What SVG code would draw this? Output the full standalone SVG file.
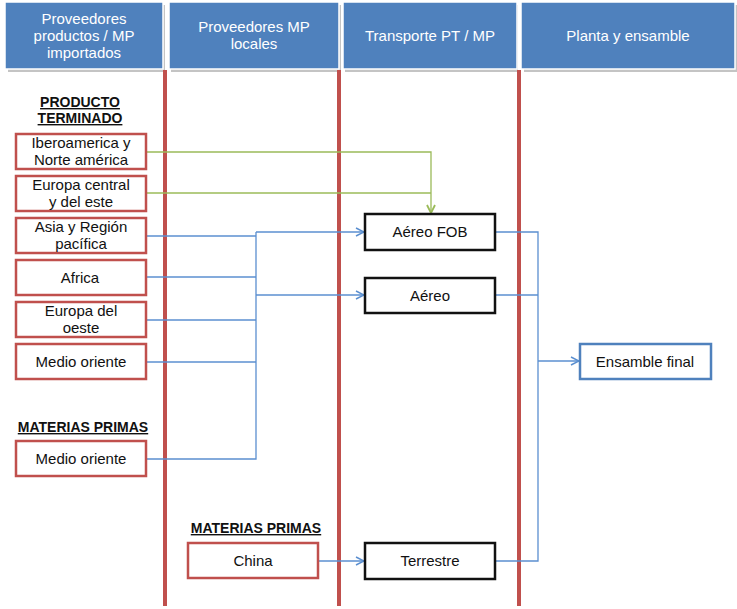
<svg xmlns="http://www.w3.org/2000/svg" width="737" height="609" viewBox="0 0 737 609">
<style>
text{font-family:"Liberation Sans",Arial,sans-serif;font-size:15px;fill:#111;text-anchor:middle}
.hdr rect{fill:#4F81BD;stroke:#fff;stroke-width:1.5}
.hdr text{fill:#fff}
.shadow{fill:#c4c4c4}
.lane{stroke:#C0504D;stroke-width:4}
.src rect{fill:#fff;stroke:#C0504D;stroke-width:2.5}
.tr rect{fill:#fff;stroke:#111;stroke-width:2.5}
.fin rect{fill:#fff;stroke:#4F81BD;stroke-width:2.5}
.lbl{font-weight:bold;font-size:14px;text-decoration:underline;fill:#111}
.b{fill:none;stroke:#5B8FD0;stroke-width:1.3}
.g{fill:none;stroke:#9BBB59;stroke-width:1.3}
</style>
<defs>
<marker id="ab" markerWidth="10" markerHeight="10" refX="9" refY="5" orient="auto" markerUnits="userSpaceOnUse"><path d="M1,1 L9,5 L1,9" fill="none" stroke="#5B8FD0" stroke-width="1.5"/></marker>
<marker id="ag" markerWidth="10" markerHeight="10" refX="9" refY="5" orient="auto" markerUnits="userSpaceOnUse"><path d="M1,1 L9,5 L1,9" fill="none" stroke="#9BBB59" stroke-width="1.8"/></marker>
</defs>
<rect width="737" height="609" fill="#fff"/>
<g id="headers">
<rect class="shadow" x="8" y="5" width="157" height="67"/>
<rect class="shadow" x="171" y="5" width="170" height="67"/>
<rect class="shadow" x="345" y="5" width="173" height="67"/>
<rect class="shadow" x="524" y="5" width="213" height="67"/>
<g id="h1" class="hdr"><rect x="5" y="2" width="158" height="67"/><text x="84" y="24">Proveedores</text><text x="84" y="41">productos / MP</text><text x="84" y="58">importados</text></g>
<g id="h2" class="hdr"><rect x="169" y="2" width="170" height="67"/><text x="254" y="32">Proveedores MP</text><text x="254" y="49">locales</text></g>
<g id="h3" class="hdr"><rect x="343" y="2" width="174" height="67"/><text x="430" y="41">Transporte PT / MP</text></g>
<g id="h4" class="hdr"><rect x="521" y="2" width="214" height="67"/><text x="628" y="41">Planta y ensamble</text></g>
</g>
<g id="lanes">
<line class="lane" x1="165" y1="70" x2="165" y2="606"/>
<line class="lane" x1="339" y1="70" x2="339" y2="606"/>
<line class="lane" x1="519" y1="70" x2="519" y2="606"/>
</g>
<g id="labels">
<text class="lbl" x="80" y="107">PRODUCTO</text>
<text class="lbl" x="80" y="123">TERMINADO</text>
<text class="lbl" x="83" y="432">MATERIAS PRIMAS</text>
<text class="lbl" x="256" y="533">MATERIAS PRIMAS</text>
</g>
<g id="connectors">
<path class="g" d="M146,152 H431 V213" marker-end="url(#ag)"/>
<path class="g" d="M146,193 H431"/>
<path class="b" d="M146,236 H256"/>
<path class="b" d="M146,277 H256"/>
<path class="b" d="M146,320 H256"/>
<path class="b" d="M146,362 H256"/>
<path class="b" d="M146,459 H256 V232"/>
<path class="b" d="M256,232 H364" marker-end="url(#ab)"/>
<path class="b" d="M256,295 H364" marker-end="url(#ab)"/>
<path class="b" d="M318,561 H364" marker-end="url(#ab)"/>
<path class="b" d="M495,232 H538 V561 H495"/>
<path class="b" d="M495,295 H538"/>
<path class="b" d="M538,361 H579" marker-end="url(#ab)"/>
</g>
<g id="n1" class="src"><rect x="16" y="134" width="130" height="35"/><text x="81" y="148">Iberoamerica y</text><text x="81" y="165">Norte américa</text></g>
<g id="n2" class="src"><rect x="16" y="176" width="130" height="35"/><text x="81" y="190">Europa central</text><text x="81" y="207">y del este</text></g>
<g id="n3" class="src"><rect x="16" y="218" width="130" height="35"/><text x="81" y="232">Asia y Región</text><text x="81" y="249">pacífica</text></g>
<g id="n4" class="src"><rect x="16" y="260" width="130" height="35"/><text x="80" y="283">Africa</text></g>
<g id="n5" class="src"><rect x="16" y="302" width="130" height="35"/><text x="81" y="316">Europa del</text><text x="81" y="333">oeste</text></g>
<g id="n6" class="src"><rect x="16" y="344" width="130" height="35"/><text x="81" y="367">Medio oriente</text></g>
<g id="n7" class="src"><rect x="16" y="441" width="130" height="35"/><text x="81" y="464">Medio oriente</text></g>
<g id="n8" class="src"><rect x="188" y="543" width="130" height="35"/><text x="253" y="566">China</text></g>
<g id="t1" class="tr"><rect x="365" y="214" width="130" height="36"/><text x="430" y="237">Aéreo FOB</text></g>
<g id="t2" class="tr"><rect x="365" y="278" width="130" height="35"/><text x="430" y="301">Aéreo</text></g>
<g id="t3" class="tr"><rect x="365" y="543" width="130" height="36"/><text x="430" y="566">Terrestre</text></g>
<g id="f1" class="fin"><rect x="580" y="344" width="131" height="35"/><text x="645" y="367">Ensamble final</text></g>
</svg>
